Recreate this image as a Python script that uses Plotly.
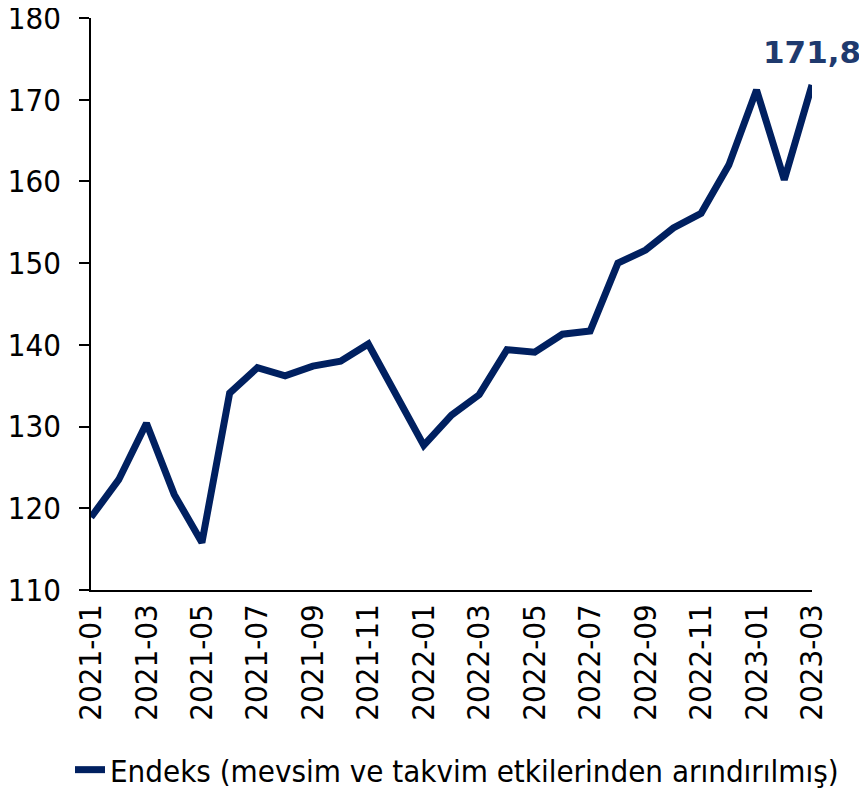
import plotly.graph_objects as go

months = ["2021-01","2021-02","2021-03","2021-04","2021-05","2021-06","2021-07","2021-08","2021-09",
          "2021-10","2021-11","2021-12","2022-01","2022-02","2022-03","2022-04","2022-05","2022-06",
          "2022-07","2022-08","2022-09","2022-10","2022-11","2022-12","2023-01","2023-02","2023-03"]
endeks = [118.9,123.5,130.4,121.7,115.8,134.1,137.2,136.2,137.4,
          138.0,140.1,134.0,127.7,131.4,133.9,139.4,139.1,141.3,
          141.7,150.0,151.6,154.3,156.1,162.0,171.2,160.2,171.8]
tick_labels = months[::2]
y_ticks = [110,120,130,140,150,160,170,180]
series_name = "Endeks (mevsim ve takvim etkilerinden arındırılmış)"
last_label = "171,8"

FONT = "DejaVu Sans Condensed, DejaVu Sans, sans-serif"
FS = 31

fig = go.Figure()
fig.add_trace(go.Scatter(x=months, y=endeks, mode="lines", name=series_name,
                         line=dict(color="#002060", width=7), cliponaxis=False))
fig.add_annotation(x=months[-1], y=endeks[-1], text="<b>" + last_label + "</b>", showarrow=False,
                   yshift=33, xanchor="center", font=dict(family="DejaVu Sans, sans-serif", size=31, color="#1F3A6E"))
fig.update_layout(
    width=867, height=790,
    margin=dict(l=83, r=63, t=10, b=208, autoexpand=False),
    paper_bgcolor="white", plot_bgcolor="white",
    font=dict(family=FONT, size=FS, color="#000000"),
    showlegend=True,
    legend=dict(orientation="h", xref="container", yref="container", x=62/867, xanchor="left",
                y=1-762/790, yanchor="middle", font=dict(family=FONT, size=FS)),
    xaxis=dict(type="category", range=[0, len(months)-1], tickmode="array", tickvals=tick_labels,
               ticktext=tick_labels, tickangle=-90, showgrid=False, showline=True, linecolor="black",
               linewidth=1.5, ticks="", tickfont=dict(size=FS), ticklabeloverflow="allow"),
    yaxis=dict(range=[110,180], tickvals=y_ticks, showgrid=False, zeroline=False, showline=True,
               linecolor="black", linewidth=1.5, ticks="outside", ticklen=10, tickwidth=1.5,
               tickcolor="black", tickfont=dict(size=FS), ticklabelstandoff=12,
               ticklabeloverflow="allow"),
)
fig.write_html("out.html")
